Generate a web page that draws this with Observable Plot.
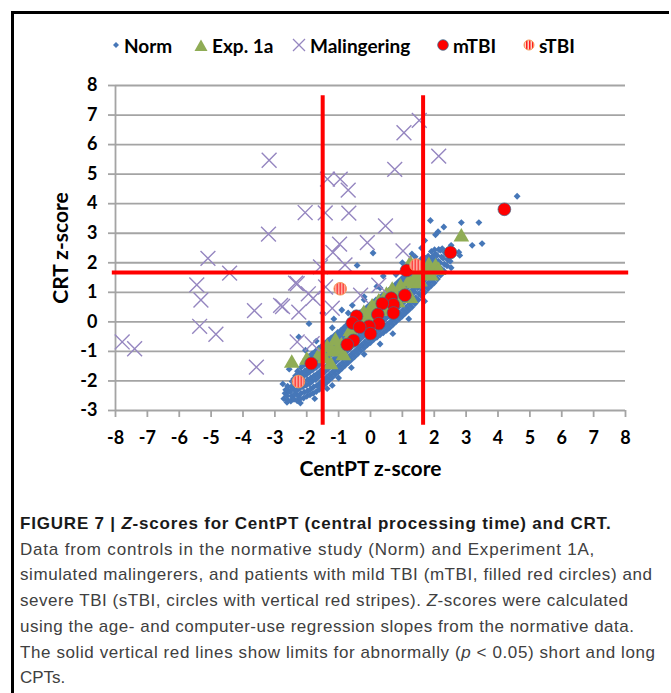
<!DOCTYPE html>
<html>
<head>
<meta charset="utf-8">
<script src="https://cdn.jsdelivr.net/npm/d3@7"></script>
<script src="https://cdn.jsdelivr.net/npm/@observablehq/plot@0.6"></script>
<style>
  html, body { margin: 0; padding: 0; background: #fff; }
  #root { position: relative; width: 671px; height: 693px; overflow: hidden; background: #fff; }
  .bdr { position: absolute; background: #000; }
  #legend { position: absolute; left: 0; top: 33px; height: 24px; width: 671px; font-family: Lato, "DejaVu Sans", sans-serif; font-weight: bold; font-size: 19px; color: #000; }
  #legend .item { position: absolute; top: 0; height: 24px; display: flex; align-items: center; white-space: nowrap; }
  #legend svg { overflow: visible; margin-right: 4px; }
  #chart { position: absolute; left: 0; top: 0; }
  #caption { position: absolute; left: 20px; top: 511px; width: 650px; font-family: "Liberation Sans", Arial, sans-serif; font-size: 17px; line-height: 25.7px; color: #404040; white-space: nowrap; }
  #caption div { display: block; }
  #caption span.ln { display: inline-block; }
  #caption .t { font-weight: 700; color: #1a1a1a; }
</style>
</head>
<body>
<div id="root">
  <div class="bdr" style="left:11px; top:11px; width:658px; height:2.5px;"></div>
  <div class="bdr" style="left:11px; top:11px; width:2.5px; height:690px;"></div>
  <div id="chart"></div>
  <div id="legend"></div>
  <div id="caption">
    <div><span class="ln t">FIGURE 7 | <i>Z</i>-scores for CentPT (central processing time) and CRT.</span></div>
    <div><span class="ln">Data from controls in the normative study (Norm) and Experiment 1A,</span></div>
    <div><span class="ln">simulated malingerers, and patients with mild TBI (mTBI, filled red circles) and</span></div>
    <div><span class="ln">severe TBI (sTBI, circles with vertical red stripes). <i>Z</i>-scores were calculated</span></div>
    <div><span class="ln">using the age- and computer-use regression slopes from the normative data.</span></div>
    <div><span class="ln">The solid vertical red lines show limits for abnormally (<i>p</i> &lt; 0.05) short and long</span></div>
    <div><span class="ln">CPTs.</span></div>
  </div>
</div>
<script>
// ---------- data ----------
const seriesNames = ["Norm", "Exp. 1a", "Malingering", "mTBI", "sTBI"];
const xTicks = [-8, -7, -6, -5, -4, -3, -2, -1, 0, 1, 2, 3, 4, 5, 6, 7, 8];
const yTicks = [-3, -2, -1, 0, 1, 2, 3, 4, 5, 6, 7, 8];
const xTitle = "CentPT z-score";
const yTitle = "CRT z-score";
const limitsX = [-1.5, 1.65];   // vertical red limit lines (CentPT)
const limitY = [1.67];          // horizontal red limit line (CRT)

// Norm (normative controls): [CentPT z, CRT z]
const norm = [
  [-2.72,-2.6],[-2.68,-2.42],[-2.66,-2.3],
  [-2.58,-2.66],[-2.62,-2.5],[-2.57,-2.33],[-2.6,-2.18],
  [-2.5,-2.68],[-2.47,-2.52],[-2.52,-2.37],[-2.49,-2.2],[-2.46,-2.02],
  [-2.4,-2.62],[-2.38,-2.45],[-2.42,-2.27],[-2.37,-2.1],[-2.41,-1.93],[-2.35,-1.82],
  [-2.3,-2.67],[-2.28,-2.5],[-2.32,-2.33],[-2.27,-2.15],[-2.31,-1.98],[-2.26,-1.8],[-2.29,-1.67],
  [-2.2,-2.6],[-2.18,-2.42],[-2.22,-2.25],[-2.17,-2.08],[-2.21,-1.9],[-2.16,-1.72],[-2.19,-1.55],
  [-2.1,-2.58],[-2.08,-2.38],[-2.12,-2.2],[-2.07,-2.02],[-2.11,-1.85],[-2.06,-1.66],[-2.09,-1.45],
  [-2.0,-2.52],[-1.98,-2.34],[-2.02,-2.15],[-1.97,-1.96],[-2.01,-1.78],[-1.96,-1.58],[-1.99,-1.38],[-2.03,-1.26],
  [-1.9,-2.47],[-1.88,-2.28],[-1.92,-2.1],[-1.87,-1.9],[-1.91,-1.7],[-1.86,-1.5],[-1.89,-1.3],[-1.93,-1.17],
  [-1.8,-2.42],[-1.78,-2.2],[-1.82,-2.0],[-1.77,-1.82],[-1.81,-1.62],[-1.76,-1.42],[-1.79,-1.22],[-1.83,-1.08],
  [-1.7,-2.36],[-1.68,-2.15],[-1.72,-1.95],[-1.67,-1.75],[-1.71,-1.55],[-1.66,-1.35],[-1.69,-1.15],[-1.73,-1.0],
  [-1.6,-2.28],[-1.58,-2.07],[-1.62,-1.86],[-1.57,-1.66],[-1.61,-1.45],[-1.56,-1.25],[-1.59,-1.06],[-1.63,-0.9],
  [-1.5,-2.18],[-1.48,-1.97],[-1.52,-1.77],[-1.47,-1.57],[-1.51,-1.37],[-1.46,-1.17],[-1.49,-0.98],[-1.53,-0.82],
  [-1.4,-2.08],[-1.38,-1.88],[-1.42,-1.68],[-1.37,-1.48],[-1.41,-1.28],[-1.36,-1.08],[-1.39,-0.9],[-1.43,-0.73],
  [-1.3,-1.98],[-1.28,-1.78],[-1.32,-1.58],[-1.27,-1.38],[-1.31,-1.18],[-1.26,-0.98],[-1.29,-0.8],[-1.33,-0.63],
  [-1.2,-1.88],[-1.18,-1.68],[-1.22,-1.48],[-1.17,-1.28],[-1.21,-1.08],[-1.16,-0.88],[-1.19,-0.7],[-1.23,-0.54],
  [-1.1,-1.78],[-1.08,-1.58],[-1.12,-1.38],[-1.07,-1.18],[-1.11,-0.98],[-1.06,-0.78],[-1.09,-0.6],[-1.13,-0.46],
  [-1.0,-1.68],[-0.98,-1.48],[-1.02,-1.28],[-0.97,-1.08],[-1.01,-0.88],[-0.96,-0.68],[-0.99,-0.5],[-1.03,-0.36],
  [-0.9,-1.58],[-0.88,-1.38],[-0.92,-1.18],[-0.87,-0.98],[-0.91,-0.78],[-0.86,-0.58],[-0.89,-0.42],[-0.93,-0.29],
  [-0.8,-1.48],[-0.78,-1.28],[-0.82,-1.08],[-0.77,-0.88],[-0.81,-0.68],[-0.76,-0.48],[-0.79,-0.32],[-0.83,-0.19],
  [-0.7,-1.38],[-0.68,-1.18],[-0.72,-0.98],[-0.67,-0.78],[-0.71,-0.58],[-0.66,-0.38],[-0.69,-0.22],[-0.73,-0.09],
  [-0.6,-1.28],[-0.58,-1.08],[-0.62,-0.88],[-0.57,-0.68],[-0.61,-0.48],[-0.56,-0.28],[-0.59,-0.12],[-0.63,0.01],
  [-0.5,-1.18],[-0.48,-0.98],[-0.52,-0.78],[-0.47,-0.58],[-0.51,-0.38],[-0.46,-0.18],[-0.49,-0.02],[-0.53,0.11],
  [-0.4,-1.08],[-0.38,-0.88],[-0.42,-0.68],[-0.37,-0.48],[-0.41,-0.28],[-0.36,-0.08],[-0.39,0.08],[-0.43,0.21],
  [-0.3,-0.98],[-0.28,-0.78],[-0.32,-0.58],[-0.27,-0.38],[-0.31,-0.18],[-0.26,0.02],[-0.29,0.18],[-0.33,0.31],
  [-0.2,-0.88],[-0.18,-0.68],[-0.22,-0.48],[-0.17,-0.28],[-0.21,-0.08],[-0.16,0.12],[-0.19,0.27],[-0.23,0.39],
  [-0.1,-0.78],[-0.08,-0.58],[-0.12,-0.38],[-0.07,-0.18],[-0.11,0.02],[-0.06,0.22],[-0.09,0.36],[-0.13,0.47],
  [0.0,-0.7],[0.02,-0.5],[-0.02,-0.3],[0.03,-0.1],[-0.01,0.1],[0.04,0.3],[0.01,0.45],[-0.03,0.57],
  [0.1,-0.6],[0.12,-0.4],[0.08,-0.2],[0.13,0.0],[0.09,0.2],[0.14,0.4],[0.11,0.54],[0.07,0.65],
  [0.2,-0.52],[0.22,-0.32],[0.18,-0.12],[0.23,0.08],[0.19,0.28],[0.24,0.48],[0.21,0.62],[0.17,0.74],
  [0.3,-0.44],[0.32,-0.24],[0.28,-0.04],[0.33,0.16],[0.29,0.36],[0.34,0.56],[0.31,0.7],[0.27,0.82],
  [0.4,-0.37],[0.42,-0.17],[0.38,0.03],[0.43,0.23],[0.39,0.43],[0.44,0.63],[0.41,0.77],[0.37,0.89],
  [0.5,-0.29],[0.52,-0.09],[0.48,0.11],[0.53,0.31],[0.49,0.51],[0.54,0.71],[0.51,0.85],[0.47,0.97],
  [0.6,-0.2],[0.62,0.0],[0.58,0.2],[0.63,0.4],[0.59,0.6],[0.64,0.8],[0.61,0.94],[0.57,1.06],
  [0.7,-0.1],[0.72,0.1],[0.68,0.3],[0.73,0.5],[0.69,0.7],[0.74,0.9],[0.71,1.03],[0.67,1.15],
  [0.8,0.0],[0.82,0.2],[0.78,0.4],[0.83,0.6],[0.79,0.8],[0.84,1.0],[0.81,1.13],[0.77,1.25],
  [0.9,0.1],[0.92,0.3],[0.88,0.5],[0.93,0.7],[0.89,0.9],[0.94,1.1],[0.91,1.23],[0.87,1.35],
  [1.0,0.2],[1.02,0.4],[0.98,0.6],[1.03,0.8],[0.99,1.0],[1.04,1.2],[1.01,1.33],[0.97,1.45],
  [1.1,0.3],[1.12,0.5],[1.08,0.7],[1.13,0.9],[1.09,1.1],[1.14,1.3],[1.11,1.43],[1.07,1.55],
  [1.2,0.4],[1.22,0.6],[1.18,0.8],[1.23,1.0],[1.19,1.2],[1.24,1.4],[1.21,1.55],[1.17,1.67],
  [1.3,0.5],[1.32,0.7],[1.28,0.9],[1.33,1.1],[1.29,1.3],[1.34,1.5],[1.31,1.66],[1.27,1.79],
  [1.4,0.62],[1.42,0.82],[1.38,1.02],[1.43,1.22],[1.39,1.42],[1.44,1.62],[1.41,1.77],[1.37,1.9],
  [1.5,0.75],[1.52,0.95],[1.48,1.15],[1.53,1.35],[1.49,1.55],[1.54,1.75],[1.51,1.88],[1.47,2.0],
  [1.6,0.88],[1.62,1.08],[1.58,1.28],[1.63,1.48],[1.59,1.68],[1.64,1.88],[1.61,2.0],[1.57,2.1],
  [1.7,1.0],[1.72,1.2],[1.68,1.4],[1.73,1.6],[1.69,1.8],[1.74,1.98],[1.71,2.1],[1.67,2.2],
  [1.8,1.12],[1.82,1.32],[1.78,1.52],[1.83,1.72],[1.79,1.92],[1.84,2.1],[1.81,2.22],
  [1.9,1.22],[1.92,1.42],[1.88,1.62],[1.93,1.82],[1.89,2.02],[1.94,2.2],[1.91,2.38],
  [2.0,1.32],[2.02,1.52],[1.98,1.72],[2.03,1.92],[1.99,2.12],[2.04,2.3],[2.01,2.44],
  [2.1,1.45],[2.12,1.65],[2.08,1.85],[2.13,2.05],[2.09,2.25],[2.14,2.45],
  [2.2,1.58],[2.22,1.8],[2.18,2.0],[2.23,2.2],[2.19,2.42],
  [2.3,1.72],[2.32,1.95],[2.28,2.15],[2.33,2.35],
  [2.4,1.9],[2.42,2.1],[2.38,2.3],
  [2.5,2.05],[2.52,2.25],
  // scattered controls
  [4.6,4.25],[1.88,3.43],[2.85,3.36],[3.4,3.36],[2.3,3.21],[2.04,2.95],[2.12,3.05],
  [3.5,2.65],[3.19,2.59],[2.77,2.36],[2.53,2.59],[2.25,2.48],[2.53,1.83],[2.8,2.25],
  [1.95,2.2],[2.04,2.08],[1.7,2.75],[1.6,2.5],[0.08,2.33],[-0.42,1.91],[0.4,1.55],
  [0.2,1.2],[-0.2,0.85],[1.0,2.0],[1.3,2.3],[-1.93,-0.06],[-2.25,-0.51],[-2.04,-0.96],
  [-0.57,0.56],[-1.36,-2.26],[-1.2,-2.15],[-1.5,0.3],[-0.9,0.4],[-1.15,0.1],
  [-2.55,-1.6],[-2.75,-2.1],[-1.75,-2.6],[-2.62,-2.72],[-2.2,-2.75],
  [-1.0,-1.9],[-0.6,-1.55],[-0.2,-1.1],[0.3,-0.75],[0.7,-0.4],[1.2,0.1],[1.7,0.7],
  [-1.7,-0.65],[-1.2,-0.2],[-0.7,0.3],[-0.2,0.75],[0.3,1.15],[0.8,1.6],[1.4,2.2]
];

// Experiment 1a controls
const exp1a = [
  [-2.47,-1.40],[-2.0,-1.30],[-1.62,-1.15],[-1.36,-0.88],[-1.25,-1.45],[-1.2,-1.02],
  [-1.05,-0.95],[-0.91,-0.82],[-1.1,-0.65],[-0.75,-0.72],[-0.63,-0.50],[-0.63,-0.33],
  [-0.5,-0.2],[-0.47,0.11],[-0.3,0.05],[-0.21,0.28],[-0.1,-0.05],[0.05,0.50],[0.1,0.15],
  [0.26,0.67],[0.35,0.35],[0.5,0.9],[0.55,0.45],[0.68,1.07],[0.85,0.65],[0.94,1.18],
  [1.05,0.95],[1.20,1.35],[1.25,0.79],[1.36,1.29],[1.45,1.55],[1.25,1.97],[1.55,1.35],
  [1.78,1.63],[1.83,1.91],[2.04,1.86],[2.14,1.74],[1.9,1.55],[1.6,1.8],[2.85,2.87],
  [-0.85,-1.15],[-1.45,-1.25],[0.0,0.3]
];

// Simulated malingerers
const malingering = [
  [-7.79,-0.68],[-7.40,-0.91],[-5.10,2.15],[-4.42,1.65],[-5.45,1.25],[-5.32,0.74],
  [-5.36,-0.15],[-4.85,-0.42],[-3.64,0.38],[-3.58,-1.53],[-3.18,5.47],[-3.20,2.97],
  [-2.82,0.56],[-2.76,0.52],[-2.30,1.29],[-2.25,0.33],[-2.30,-0.68],[-1.83,-0.74],
  [-2.05,3.70],[-1.42,3.69],[-0.68,3.68],[-1.35,4.83],[-0.95,4.83],[-0.70,4.46],
  [0.76,5.16],[1.05,6.40],[1.53,6.82],[2.14,5.61],[0.47,3.25],[-0.97,2.63],
  [-1.18,2.35],[-0.10,2.68],[1.02,2.40],[-0.80,1.93],[-1.57,1.86],[-2.35,1.31],
  [-1.80,0.80],[-1.41,1.18],[-1.20,0.46],[0.26,1.24],[-0.31,0.90],[-1.95,0.95]
];

// Mild TBI patients
const mTBI = [
  [4.20,3.81],[2.51,2.35],[1.13,1.74],[1.08,0.90],[0.65,0.80],[0.72,0.58],[0.37,0.62],
  [0.72,0.30],[0.23,0.25],[0.26,-0.06],[-0.05,-0.15],[0.00,-0.40],[-0.44,0.19],
  [-0.57,-0.04],[-0.34,-0.18],[-0.53,-0.63],[-0.73,-0.77],[-1.86,-1.41]
];

// Severe TBI patients
const sTBI = [[-2.26,-2.02],[-0.95,1.12],[1.43,1.92]];

// ---------- styles ----------
const C = {
  norm: "#4677b8", exp: "#8fac55", mal: "#9586c0", mtbi: "#ff0000", red: "#ff0000",
  grid: "#a4a4a4"
};
const px = d => d[0], py = d => d[1];

const chart = Plot.plot({
  width: 671, height: 490,
  marginLeft: 115, marginRight: 46, marginTop: 85, marginBottom: 80,
  style: { fontFamily: "Lato, 'DejaVu Sans', sans-serif", fontWeight: "bold", fontSize: "18px", color: "#000", background: "transparent", overflow: "visible" },
  x: { domain: [-8, 8], label: null },
  y: { domain: [-3, 8], label: null },
  marks: [
    Plot.gridY(yTicks, { stroke: C.grid, strokeOpacity: 1, strokeWidth: 1.8 }),
    Plot.ruleX([xTicks[0]], { stroke: C.grid, strokeWidth: 1.8 }),
    Plot.axisY(yTicks, { tickSize: 7, tickPadding: 11, stroke: C.grid, strokeWidth: 1.8, strokeOpacity: 1, tickFormat: d => String(d), fill: "#000", fontSize: 18 }),
    Plot.axisX(xTicks, { tickSize: 7, tickPadding: 14, stroke: C.grid, strokeWidth: 1.8, strokeOpacity: 1, tickFormat: d => String(d), fill: "#000", fontSize: 18 }),
    Plot.text([xTitle], { frameAnchor: "bottom", textAnchor: "middle", dy: 65, fontSize: 21, fontWeight: "bold", fill: "#000" }),
    Plot.text([yTitle], { frameAnchor: "left", textAnchor: "middle", dx: -54, rotate: -90, fontSize: 21, fontWeight: "bold", fill: "#000" }),
    Plot.dot(norm, { x: px, y: py, symbol: "diamond2", r: 3.1, fill: C.norm, stroke: "none" }),
    Plot.dot(exp1a, { x: px, y: py, symbol: "triangle", r: 5.8, fill: C.exp, stroke: "none" }),
    Plot.dot(malingering, { x: px, y: py, symbol: "times", r: 6.8, stroke: C.mal, strokeWidth: 1.4, fill: "none" }),
    Plot.dot(mTBI, { x: px, y: py, r: 6.4, fill: C.mtbi, stroke: "#3d6d8e", strokeWidth: 0.7 }),
    Plot.dot(sTBI, { x: px, y: py, r: 6.3, fill: "url(#stripes)", stroke: "#f5995a", strokeWidth: 1 }),
    Plot.ruleX(limitsX, { y1: () => -3.5, y2: () => 7.65, stroke: C.red, strokeWidth: 4, clip: false }),
    Plot.ruleY(limitY, { x1: () => -8.1, x2: () => 8.1, stroke: C.red, strokeWidth: 4, clip: false })
  ]
});

// stripe pattern for sTBI markers
const ns = "http://www.w3.org/2000/svg";
function addPattern(svg, id) {
  const defs = document.createElementNS(ns, "defs");
  defs.innerHTML = `<pattern id="${id}" patternUnits="userSpaceOnUse" width="3" height="3">
      <rect width="3" height="3" fill="#fcd5c6"/><rect width="1.5" height="3" fill="#ff1a1a"/></pattern>`;
  svg.insertBefore(defs, svg.firstChild);
}
addPattern(chart, "stripes");
document.getElementById("chart").appendChild(chart);

// ---------- legend ----------
const legendX = [[112, 0], [194, 1], [292, 2], [437, 3], [523, 4]];
const symbolSvg = [
  `<svg width="8" height="8" viewBox="-4 -4 8 8"><path d="M0,-3L3,0L0,3L-3,0Z" fill="${C.norm}"/></svg>`,
  `<svg width="14" height="12" viewBox="-7 -7 14 12"><path d="M0,-6.5L6.5,5L-6.5,5Z" fill="${C.exp}"/></svg>`,
  `<svg width="14" height="14" viewBox="-7 -7 14 14"><path d="M-6,-6L6,6M6,-6L-6,6" stroke="${C.mal}" stroke-width="1.3" fill="none"/></svg>`,
  `<svg width="12" height="12" viewBox="-6 -6 12 12"><circle r="5.3" fill="${C.mtbi}" stroke="#3d6d8e" stroke-width="0.8"/></svg>`,
  `<svg width="12" height="12" viewBox="-6 -6 12 12"><circle r="5" fill="url(#stripes)" stroke="#f5995a" stroke-width="1"/></svg>`
];
const legend = document.getElementById("legend");
legendX.forEach(([x, i]) => {
  const it = document.createElement("div");
  it.className = "item";
  it.style.left = x + "px";
  it.innerHTML = symbolSvg[i] + `<span>${seriesNames[i]}</span>`;
  legend.appendChild(it);
});

// ---------- caption: nudge each line toward the reference's (ragged-right) line length ----------
const captionRight = [618, 615, 652, 628, 634, 655, null];
const lines = document.querySelectorAll("#caption span.ln");
const cap = document.getElementById("caption");
lines.forEach((ln, i) => {
  const target = captionRight[i];
  if (target == null) return;
  const w = ln.getBoundingClientRect().width;
  const want = target - cap.getBoundingClientRect().left;
  const n = ln.textContent.length - 1;
  const ls = Math.max(-0.6, Math.min(0.8, (want - w) / n));
  ln.style.letterSpacing = ls.toFixed(3) + "px";
});
</script>
</body>
</html>
